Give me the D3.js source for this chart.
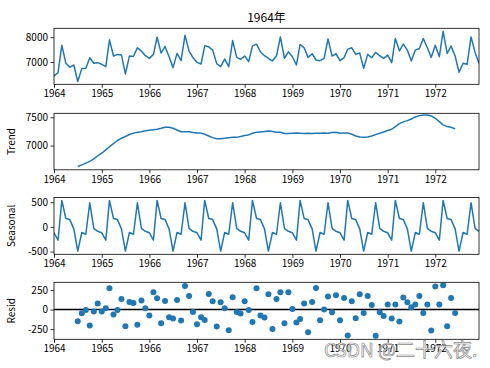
<!DOCTYPE html>
<html>
<head>
<meta charset="utf-8">
<script src="https://cdn.jsdelivr.net/npm/d3@7"></script>
<style>
  body { margin: 0; background: #fff; }
  svg { display: block; font-family: "Noto Sans CJK SC", "DejaVu Sans", sans-serif; }
</style>
</head>
<body>
<div id="chart"></div>
<script>

/////////// Data (monthly, 1964-01 .. 1972-12) ///////////

var startYear = 1964;
var yearTicks = ["1964", "1965", "1966", "1967", "1968", "1969", "1970", "1971", "1972"];

var observed = [
  6440, 6573, 7680, 6947, 6787, 6880, 6213, 6733, 6747, 7173, 6947, 6973,
  6907, 6813, 7893, 7240, 7307, 7280, 6520, 7240, 7227, 7573, 7440, 7253,
  7147, 7307, 8000, 7360, 7627, 7213, 6773, 7347, 7053, 8080, 7440, 7173,
  6987, 6920, 7653, 7613, 7480, 6933, 6813, 7120, 6813, 7867, 7187, 7107,
  7240, 7013, 7653, 7720, 7413, 7253, 7147, 7040, 7250, 8013, 7147, 7413,
  7213, 6880, 7707, 7573, 7187, 7333, 7080, 7053, 7147, 7933, 7240, 7333,
  7053, 7173, 7520, 7573, 7307, 7360, 6747, 7307, 7173, 7387, 7253, 7147,
  7280, 6973, 7947, 7453, 7720, 7480, 7040, 7480, 7547, 7947, 7573, 7187,
  7680, 7213, 8240, 7347, 7640, 7240, 6587, 6947, 6907, 8013, 7387, 6947
];

// trend is missing for the first and last six months
var trend = [
  null, null, null, null, null, null, 6630, 6660, 6690, 6720, 6765, 6820,
  6865, 6925, 6980, 7035, 7090, 7130, 7160, 7195, 7220, 7235, 7245, 7260,
  7270, 7280, 7290, 7305, 7325, 7325, 7305, 7275, 7245, 7245, 7245, 7230,
  7220, 7220, 7200, 7170, 7140, 7120, 7120, 7130, 7140, 7145, 7145, 7160,
  7176, 7188, 7218, 7235, 7241, 7247, 7259, 7247, 7235, 7235, 7212, 7212,
  7218, 7223, 7218, 7212, 7218, 7212, 7218, 7218, 7223, 7218, 7229, 7235,
  7218, 7223, 7223, 7200, 7170, 7153, 7147, 7153, 7170, 7194, 7218, 7241,
  7265, 7288, 7335, 7388, 7418, 7441, 7470, 7506, 7529, 7541, 7541, 7523,
  7482, 7423, 7365, 7335, 7323, 7294, null, null, null, null, null, null
];

// one seasonal cycle (Jan..Dec), repeated every year
var seasonalCycle = [-120, -270, 537, 170, 148, -40, -490, -114, -150, 490, -30, -90];

var resid = [
  null, null, null, null, null, null, -150, -47, -4, -205, -26, 77,
  -26, 17, 273, -64, -4, 137, -213, 98, 85, -196, 115, 17,
  -77, 222, 145, -175, 111, -98, -115, 124, -141, 303, 175, -30,
  -188, -98, -132, 200, 107, -218, 94, 17, -265, 158, -30, -51,
  107, -4, -158, 273, -77, -102, 196, -248, 137, 222, -175, 222,
  9, -166, -120, 77, -290, 98, 278, -137, 0, 167, -34, 184,
  -137, 150, -333, 107, -111, 196, -43, 175, 60, -337, -34, -81,
  64, -115, 64, -154, 154, 94, 30, 64, 175, -43, 64, -269,
  295, 64, 312, -213, 150, -43, null, null, null, null, null, null
];

var titleText = "1964年";
var watermark = "CSDN @二十六夜.";

/////////// Layout ///////////

var width = 490, height = 368;
var left = 54, right = 479;
var color = "#1f77b4";

var months = observed.map(function(d, i) { return new Date(startYear, i, 1); });
var seasonal = observed.map(function(d, i) { return seasonalCycle[i % 12]; });

var panels = [
  {values: observed, top: 28.3, bottom: 84.3, domain: [6100, 8360], ticks: [7000, 8000], label: null},
  {values: trend, top: 113.3, bottom: 169.8, domain: [6572, 7570], ticks: [7000, 7500], label: "Trend"},
  {values: seasonal, top: 197.5, bottom: 254.3, domain: [-556, 596], ticks: [-500, 0, 500], label: "Seasonal"},
  {values: resid, top: 282.3, bottom: 339.3, domain: [-381, 350], ticks: [-250, 0, 250], label: "Resid", dots: true}
];

var svg = d3.select("#chart").append("svg")
  .attr("width", width)
  .attr("height", height);

var x = d3.scaleTime()
  .domain([months[0], months[months.length - 1]])
  .range([left, right]);

var xTickDates = yearTicks.map(function(y) { return new Date(+y, 0, 1); });

svg.append("text")
  .attr("x", (left + right) / 2)
  .attr("y", 22)
  .attr("text-anchor", "middle")
  .attr("font-size", 12)
  .attr("fill", "#000")
  .text(titleText);

panels.forEach(function(p) {

  var y = d3.scaleLinear().domain(p.domain).range([p.bottom, p.top]);
  var g = svg.append("g");

  // x axis
  var xAxis = d3.axisBottom(x)
    .tickValues(xTickDates)
    .tickFormat(d3.timeFormat("%Y"))
    .tickSize(3.5)
    .tickPadding(2.5);
  var gx = g.append("g")
    .attr("transform", "translate(0," + p.bottom + ")")
    .call(xAxis);

  // y axis
  var yAxis = d3.axisLeft(y)
    .tickValues(p.ticks)
    .tickFormat(function(d) { return String(d); })
    .tickSize(3.5)
    .tickPadding(2.5);
  var gy = g.append("g")
    .attr("transform", "translate(" + left + ",0)")
    .call(yAxis);

  [gx, gy].forEach(function(a) {
    a.select(".domain").remove();
    a.selectAll("line").attr("stroke", "#000").attr("stroke-width", 0.8);
    a.selectAll("text").attr("font-size", 10).attr("fill", "#000")
      .attr("font-family", "'Noto Sans CJK SC', 'DejaVu Sans', sans-serif");
  });

  // zero line for the residuals, behind the dots
  if (p.dots) {
    g.append("line")
      .attr("x1", left).attr("x2", right)
      .attr("y1", y(0)).attr("y2", y(0))
      .attr("stroke", "#000")
      .attr("stroke-width", 1.5);
  }

  var clipId = "clip" + p.top.toFixed(0);
  g.append("clipPath").attr("id", clipId)
    .append("rect")
      .attr("x", left).attr("y", p.top)
      .attr("width", right - left).attr("height", p.bottom - p.top);

  var pts = p.values.map(function(v, i) { return {date: months[i], value: v}; })
    .filter(function(d) { return d.value !== null; });

  if (p.dots) {
    g.append("g").attr("clip-path", "url(#" + clipId + ")")
      .selectAll("circle")
      .data(pts)
      .enter()
        .append("circle")
        .attr("cx", function(d) { return x(d.date); })
        .attr("cy", function(d) { return y(d.value); })
        .attr("r", 3)
        .attr("fill", color);
  } else {
    var line = d3.line()
      .x(function(d) { return x(d.date); })
      .y(function(d) { return y(d.value); });
    g.append("path")
      .datum(pts)
      .attr("clip-path", "url(#" + clipId + ")")
      .attr("d", line)
      .attr("fill", "none")
      .attr("stroke", color)
      .attr("stroke-width", 1.5)
      .attr("stroke-linejoin", "round");
  }

  // frame
  g.append("rect")
    .attr("x", left).attr("y", p.top)
    .attr("width", right - left).attr("height", p.bottom - p.top)
    .attr("fill", "none")
    .attr("stroke", "#000")
    .attr("stroke-width", 0.8);

  if (p.label) {
    g.append("text")
      .attr("transform", "translate(15," + ((p.top + p.bottom) / 2) + ") rotate(-90)")
      .attr("text-anchor", "middle")
      .attr("font-size", 10)
      .attr("fill", "#000")
      .text(p.label);
  }
});

/////////// Watermark ///////////

svg.append("text")
  .attr("x", 324)
  .attr("y", 357)
  .attr("font-size", 19)
  .attr("fill", "#ffffff")
  .attr("fill-opacity", 0.6)
  .attr("stroke", "#8a8a8a")
  .attr("stroke-width", 0.7)
  .text(watermark);

</script>
</body>
</html>
